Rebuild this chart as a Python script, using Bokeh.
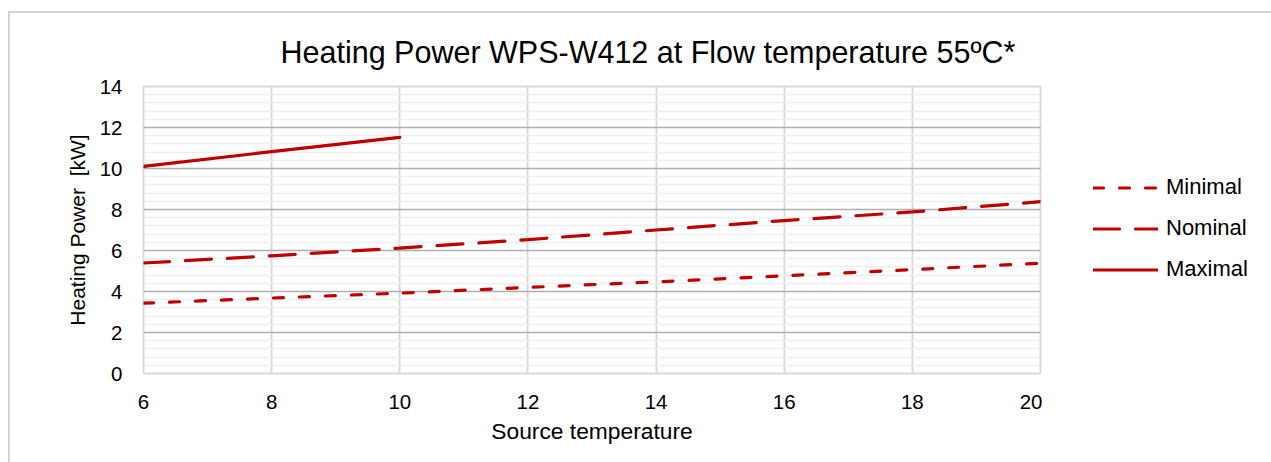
from bokeh.plotting import figure
from bokeh.layouts import row
from bokeh.models import Legend, LegendItem, FixedTicker, Range1d
from bokeh.embed import file_html
from bokeh.resources import INLINE

# ---- data ----
source_temp = [6, 8, 10, 12, 14, 16, 18, 20]
minimal = [3.43, 3.68, 3.92, 4.20, 4.47, 4.77, 5.07, 5.38]
nominal = [5.39, 5.74, 6.12, 6.53, 7.00, 7.46, 7.88, 8.38]
source_temp_max = [6, 8, 10]
maximal = [10.10, 10.82, 11.52]

series_names = ["Minimal", "Nominal", "Maximal"]
x_ticks = [6, 8, 10, 12, 14, 16, 18, 20]
y_ticks = [0, 2, 4, 6, 8, 10, 12, 14]
y_grid_major = [2, 4, 6, 8, 10, 12]
y_grid_minor = [round(v * 0.4, 1) for v in range(1, 35) if (v * 0.4) % 2 > 0.01 and (v * 0.4) % 2 < 1.99]
x_grid = [8, 10, 12, 14, 16, 18]

FONT = "Liberation Sans"
RED = "#C00000"
STYLES = [dict(line_dash="10 16"), dict(line_dash="26 16"), dict(line_dash="solid")]
SERIES = [(source_temp, minimal), (source_temp, nominal), (source_temp_max, maximal)]

p = figure(width=1032, height=449, output_backend="svg", toolbar_location=None,
           x_range=Range1d(6, 20), y_range=Range1d(0, 14),
           min_border_left=133, min_border_right=2, min_border_top=73, min_border_bottom=89,
           title="Heating Power WPS-W412 at Flow temperature 55ºC*")

p.title.text_font = FONT
p.title.text_font_size = "30.5px"
p.title.text_font_style = "normal"
p.title.text_color = "#000000"
p.title.align = "left"
p.title.offset = 137
p.title.standoff = 35

p.outline_line_color = "#D9D9D9"
p.outline_line_width = 2

# grids
p.xgrid.ticker = FixedTicker(ticks=x_grid)
p.xgrid.grid_line_color = "#D9D9D9"
p.xgrid.grid_line_width = 2
p.ygrid.ticker = FixedTicker(ticks=y_grid_major, minor_ticks=y_grid_minor)
p.ygrid.grid_line_color = "#AFAFAF"
p.ygrid.grid_line_width = 1.5
p.ygrid.minor_grid_line_color = "#EFEFEF"
p.ygrid.minor_grid_line_width = 1.5

# axes
for ax in (p.xaxis[0], p.yaxis[0]):
    ax.axis_line_color = None
    ax.major_tick_line_color = None
    ax.minor_tick_line_color = None
    ax.major_label_text_font = FONT
    ax.major_label_text_font_size = "20.5px"
    ax.major_label_text_color = "#000000"
    ax.axis_label_text_font = FONT
    ax.axis_label_text_font_style = "normal"
    ax.axis_label_text_color = "#000000"

p.xaxis.axis_label_text_font_size = "22.8px"
p.yaxis.axis_label_text_font_size = "21px"
p.xaxis.ticker = FixedTicker(ticks=x_ticks)
p.yaxis.ticker = FixedTicker(ticks=y_ticks)
p.xaxis.major_label_standoff = 15
p.yaxis.major_label_standoff = 15
p.xaxis.axis_label = "Source temperature"
p.yaxis.axis_label = "Heating Power\u00a0 [kW]"
p.xaxis.axis_label_standoff = 6
p.yaxis.axis_label_standoff = 8

for (xs, ys), st in zip(SERIES, STYLES):
    p.line(xs, ys, line_color=RED, line_width=3.2, line_cap="round", **st)

# ---- legend panel (separate figure at right of the plot area) ----
# same series drawn again, but its ranges keep them out of view: only the legend shows
lg = figure(width=229, height=449, output_backend="svg", toolbar_location=None,
            x_range=Range1d(100, 101), y_range=Range1d(100, 101),
            min_border_left=0, min_border_right=0, min_border_top=0, min_border_bottom=0,
            x_axis_location=None, y_axis_location=None)
lg.grid.visible = False
lg.outline_line_color = None
items = []
for name, (xs, ys), st in zip(series_names, SERIES, STYLES):
    r = lg.line(xs, ys, line_color=RED, line_width=3.2, line_cap="round", **st)
    items.append(LegendItem(label=name, renderers=[r]))

legend = Legend(items=items, location=(51, 91), orientation="vertical")
legend.border_line_color = None
legend.background_fill_alpha = 0
legend.padding = 0
legend.margin = 0
legend.glyph_width = 65
legend.glyph_height = 25
legend.label_height = 25
legend.spacing = 15
legend.label_standoff = 8
legend.label_text_font = FONT
legend.label_text_font_size = "22px"
legend.label_text_color = "#000000"
lg.add_layout(legend, "center")

layout = row(p, lg, spacing=0)
layout.styles = {"margin-left": "8px", "margin-top": "11px",
                 "border-left": "2px solid #D4D4D4", "border-top": "2px solid #D4D4D4"}

open("out.html", "w").write(file_html(layout, INLINE))
